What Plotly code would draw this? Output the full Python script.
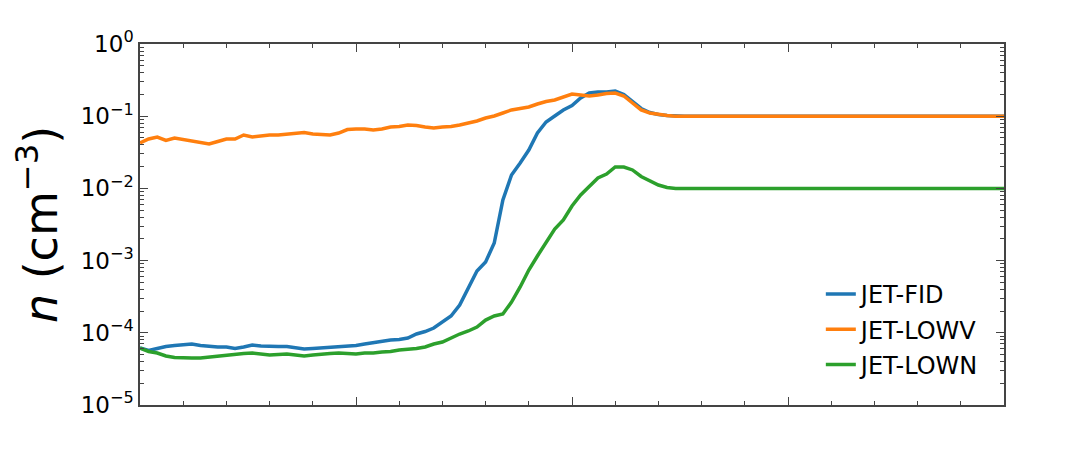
import plotly.graph_objects as go

# sample index along the (unlabelled) x axis
x_index = list(range(101))

n_fid = [
    6.15e-5, 5.69e-5, 6.06e-5, 6.46e-5, 6.67e-5, 6.89e-5, 7.00e-5, 6.67e-5, 6.46e-5, 6.36e-5,
    6.36e-5, 6.06e-5, 6.36e-5, 6.78e-5, 6.56e-5, 6.46e-5, 6.46e-5, 6.46e-5, 6.15e-5, 5.97e-5,
    6.06e-5, 6.15e-5, 6.25e-5, 6.36e-5, 6.56e-5, 6.67e-5, 7.00e-5, 7.34e-5, 7.70e-5, 7.95e-5,
    8.07e-5, 8.47e-5, 9.62e-5, 1.042e-4, 1.165e-4, 1.41e-4, 1.71e-4, 2.43e-4, 4.31e-4, 7.18e-4,
    9.57e-4, 1.75e-3, 6.91e-3, 0.01534, 0.0225, 0.0340, 0.0585, 0.0831, 0.1007, 0.122,
    0.1407, 0.1787, 0.2096, 0.2164, 0.2164, 0.2235, 0.200, 0.1573, 0.128, 0.1125,
    0.1056, 0.1022,
] + [0.1] * 39

n_lowv = [
    0.0425, 0.0483, 0.0515, 0.0461, 0.0499, 0.0475, 0.0454, 0.0432, 0.0412, 0.0446,
    0.0483, 0.0483, 0.0549, 0.0515, 0.0532, 0.0549, 0.0549, 0.0567, 0.0585, 0.0594,
    0.0567, 0.0558, 0.0549, 0.0585, 0.0654, 0.0665, 0.0665, 0.0644, 0.0665, 0.0709,
    0.0720, 0.0755, 0.0743, 0.0709, 0.0687, 0.0709, 0.0720, 0.0755, 0.0805, 0.0858,
    0.0944, 0.1007, 0.1107, 0.122, 0.128, 0.134, 0.1476, 0.160, 0.1677, 0.1845,
    0.203, 0.1966, 0.1905, 0.1966, 0.206, 0.2096, 0.1905, 0.1524, 0.122, 0.1107,
    0.1056, 0.1022,
] + [0.1] * 39

n_lown = [
    6.15e-5, 5.51e-5, 5.25e-5, 4.77e-5, 4.55e-5, 4.48e-5, 4.48e-5, 4.48e-5, 4.62e-5, 4.77e-5,
    4.93e-5, 5.09e-5, 5.17e-5, 5.25e-5, 5.09e-5, 4.93e-5, 5.01e-5, 5.09e-5, 4.93e-5, 4.77e-5,
    4.93e-5, 5.09e-5, 5.17e-5, 5.25e-5, 5.17e-5, 5.09e-5, 5.25e-5, 5.25e-5, 5.42e-5, 5.51e-5,
    5.78e-5, 5.87e-5, 6.06e-5, 6.36e-5, 7.00e-5, 7.46e-5, 8.47e-5, 9.62e-5, 1.059e-4, 1.203e-4,
    1.50e-4, 1.71e-4, 1.82e-4, 2.67e-4, 4.31e-4, 7.41e-4, 1.159e-3, 1.81e-3, 2.74e-3, 3.65e-3,
    5.70e-3, 8.10e-3, 0.01045, 0.01393, 0.0158, 0.0198, 0.0198, 0.0180, 0.01462, 0.01266,
    0.01114, 0.01029,
] + [0.01] * 39

series = [
    ("JET-FID", n_fid, "#1f77b4"),
    ("JET-LOWV", n_lowv, "#ff7f0e"),
    ("JET-LOWN", n_lown, "#2ca02c"),
]

y_tickvals = [1e-5, 1e-4, 1e-3, 1e-2, 1e-1, 1e0]
y_ticktext = ["10<sup>−5</sup>", "10<sup>−4</sup>", "10<sup>−3</sup>",
              "10<sup>−2</sup>", "10<sup>−1</sup>", "10<sup>0</sup>"]

fig = go.Figure()
for name, values, color in series:
    fig.add_trace(
        go.Scatter(
            x=x_index,
            y=values,
            mode="lines",
            name=name,
            legendgroup=name,
            line=dict(color=color, width=3.5),
        )
    )

axis_style = dict(
    showline=True,
    linecolor="#444",
    linewidth=1.5,
    mirror="allticks",
    ticks="inside",
    tickcolor="#444",
    showgrid=False,
    zeroline=False,
    automargin=False,
)

# the page body adds an 8px offset, so margins are shifted to compensate
fig.update_layout(
    width=1080,
    height=450,
    margin=dict(l=132, r=84, t=36, b=53),
    plot_bgcolor="white",
    paper_bgcolor="white",
    font=dict(family="DejaVu Sans", color="black"),
    xaxis=dict(
        range=[0, 100],
        tick0=0,
        dtick=25,
        ticklen=8,
        showticklabels=False,
        minor=dict(ticks="inside", dtick=5, ticklen=4, tickcolor="#444"),
        **axis_style,
    ),
    yaxis=dict(
        type="log",
        range=[-5, 0],
        tickvals=y_tickvals,
        ticktext=y_ticktext,
        ticklen=8,
        ticklabelstandoff=0,
        tickfont=dict(size=23),
        minor=dict(ticks="inside", dtick="D1", ticklen=4, tickcolor="#444"),
        title=dict(text="<i>n</i> (cm<sup>−3</sup>)", font=dict(size=46), standoff=14),
        **axis_style,
    ),
    legend=dict(
        x=0.788,
        y=0.05,
        xanchor="left",
        yanchor="bottom",
        font=dict(size=24),
        bgcolor="rgba(0,0,0,0)",
        tracegroupgap=1,
    ),
)

fig.write_html("out.html")
